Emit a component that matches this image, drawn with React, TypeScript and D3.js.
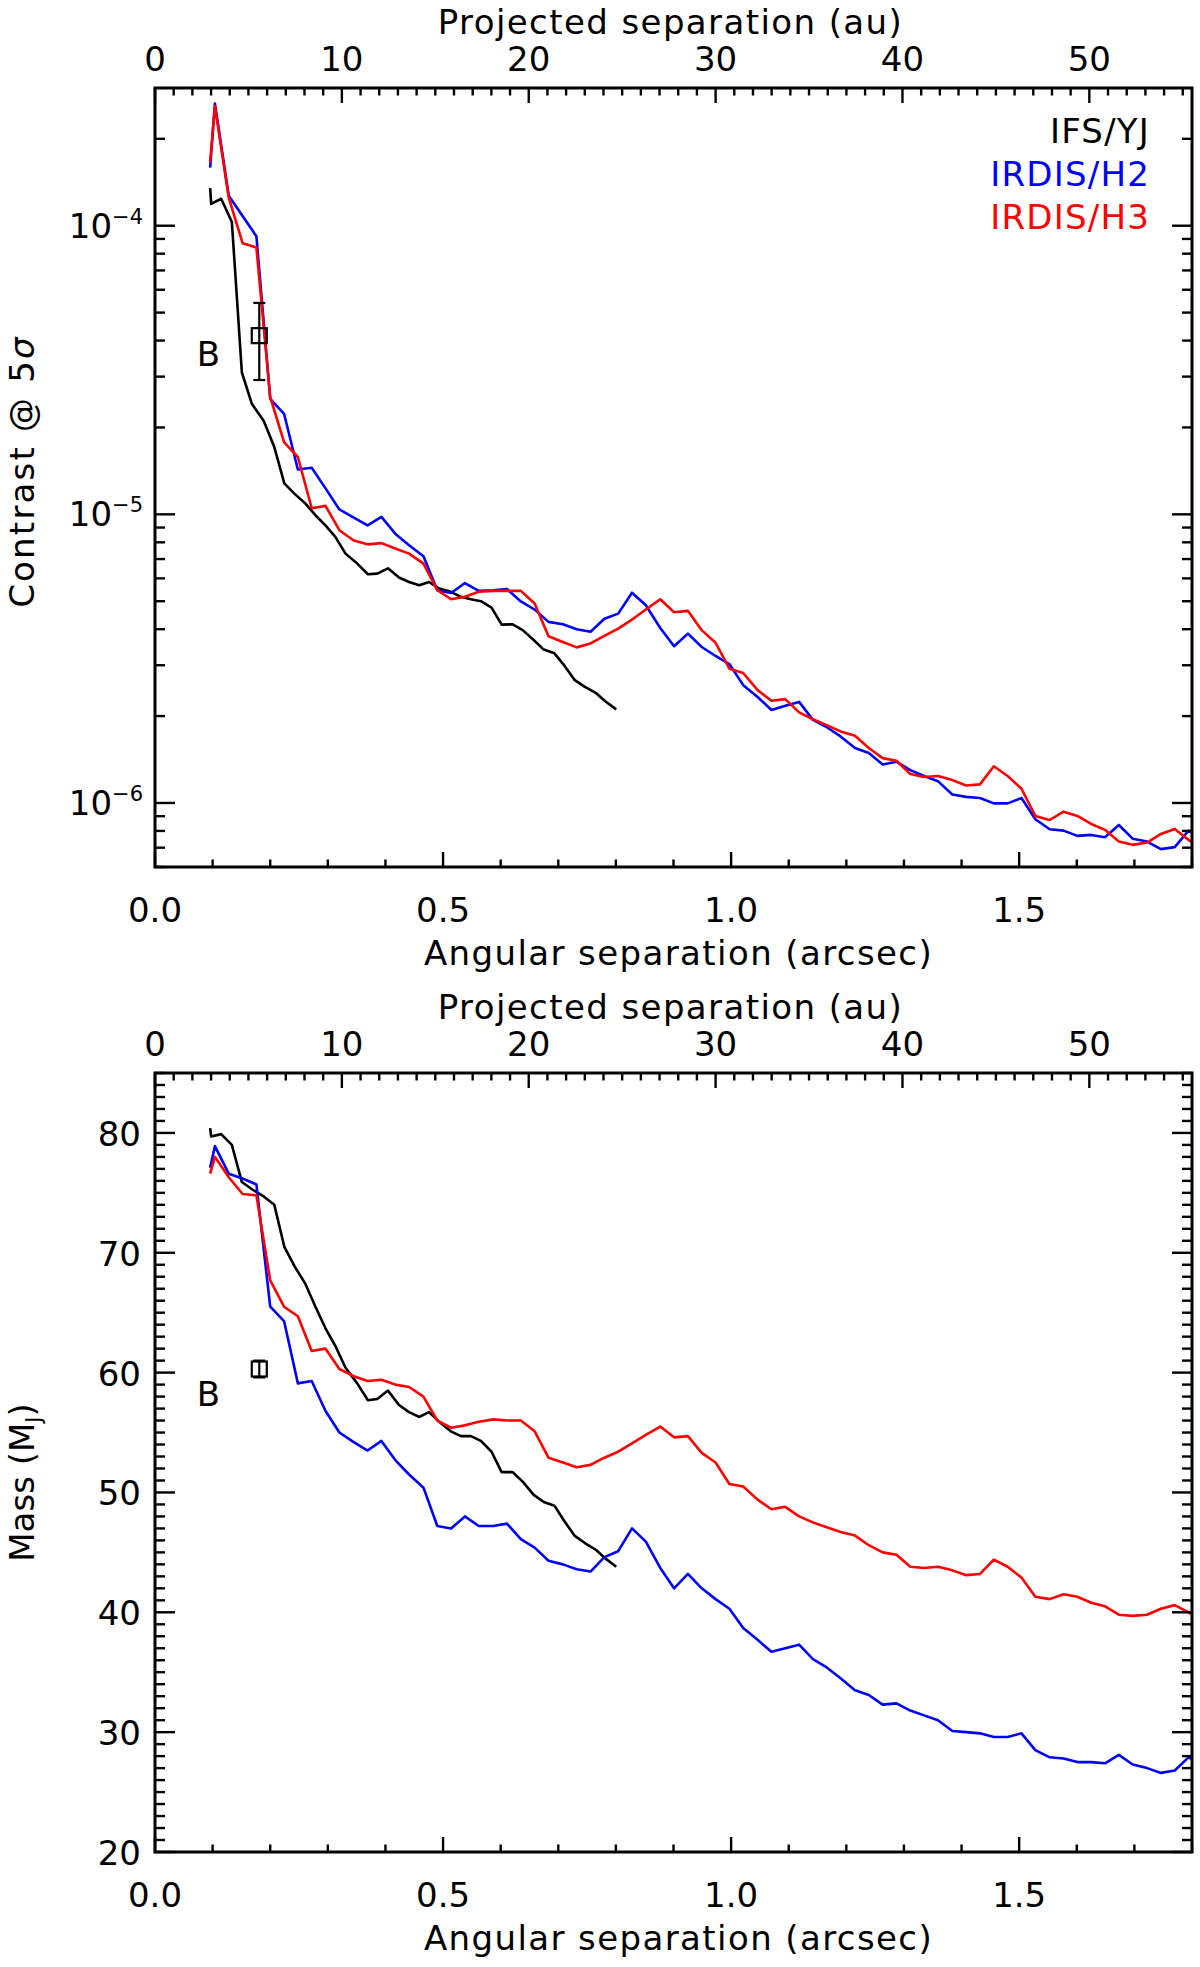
import { useEffect, useRef } from 'react';
import * as d3 from 'd3';

// IRDIS separations (arcsec)
const irdisSep = [
  0.0957, 0.104, 0.128, 0.152, 0.176, 0.2, 0.224, 0.248, 0.272, 0.296, 0.32, 0.345, 0.369, 0.393, 0.417,
  0.441, 0.466, 0.49, 0.514, 0.538, 0.562, 0.587, 0.611, 0.635, 0.659, 0.683, 0.708, 0.732, 0.756, 0.78,
  0.804, 0.828, 0.852, 0.877, 0.901, 0.925, 0.949, 0.973, 0.997, 1.021, 1.046, 1.07, 1.094, 1.118, 1.142,
  1.166, 1.19, 1.215, 1.239, 1.263, 1.287, 1.311, 1.335, 1.359, 1.384, 1.408, 1.432, 1.456, 1.48, 1.504,
  1.528, 1.553, 1.577, 1.601, 1.625, 1.649, 1.673, 1.697, 1.722, 1.746, 1.77, 1.794, 1.818,
];

const contrastH2 = [
  1.59e-4, 2.65e-4, 1.27e-4, 1.08e-4, 9.2e-5, 2.51e-5, 2.23e-5, 1.43e-5, 1.45e-5, 1.23e-5,
  1.04e-5, 9.75e-6, 9.16e-6, 9.8e-6, 8.57e-6, 7.81e-6, 7.16e-6, 5.46e-6, 5.34e-6, 5.78e-6,
  5.43e-6, 5.46e-6, 5.51e-6, 4.99e-6, 4.68e-6, 4.24e-6, 4.16e-6, 4.0e-6, 3.92e-6, 4.35e-6,
  4.53e-6, 5.35e-6, 4.84e-6, 4.04e-6, 3.49e-6, 3.86e-6, 3.47e-6, 3.23e-6, 3.03e-6, 2.56e-6,
  2.33e-6, 2.1e-6, 2.17e-6, 2.24e-6, 1.94e-6, 1.83e-6, 1.7e-6, 1.55e-6, 1.49e-6, 1.36e-6,
  1.39e-6, 1.3e-6, 1.24e-6, 1.19e-6, 1.07e-6, 1.05e-6, 1.04e-6, 9.97e-7, 9.97e-7, 1.04e-6,
  8.78e-7, 8.11e-7, 8.02e-7, 7.69e-7, 7.75e-7, 7.61e-7, 8.39e-7, 7.52e-7, 7.35e-7, 6.92e-7,
  7.03e-7, 8.02e-7, 7.7e-7,
];

const contrastH3 = [
  1.66e-4, 2.6e-4, 1.25e-4, 8.7e-5, 8.4e-5, 2.55e-5, 1.78e-5, 1.58e-5, 1.05e-5, 1.07e-5,
  8.81e-6, 8.12e-6, 7.87e-6, 7.95e-6, 7.61e-6, 7.31e-6, 6.75e-6, 5.46e-6, 5.08e-6, 5.18e-6,
  5.39e-6, 5.43e-6, 5.43e-6, 5.43e-6, 4.91e-6, 3.78e-6, 3.61e-6, 3.46e-6, 3.57e-6, 3.79e-6,
  4.02e-6, 4.32e-6, 4.68e-6, 5.08e-6, 4.58e-6, 4.63e-6, 3.97e-6, 3.59e-6, 2.92e-6, 2.82e-6,
  2.46e-6, 2.26e-6, 2.29e-6, 2.06e-6, 1.95e-6, 1.86e-6, 1.77e-6, 1.71e-6, 1.55e-6, 1.43e-6,
  1.4e-6, 1.26e-6, 1.23e-6, 1.24e-6, 1.2e-6, 1.15e-6, 1.16e-6, 1.34e-6, 1.24e-6, 1.12e-6,
  9.02e-7, 8.73e-7, 9.33e-7, 9.02e-7, 8.46e-7, 8.07e-7, 7.35e-7, 7.16e-7, 7.29e-7, 7.81e-7,
  8.13e-7, 7.45e-7, 6.9e-7,
];

const massH2 = [
  77.1, 78.9, 76.6, 76.2, 75.7, 65.5, 64.3, 59.1, 59.3, 56.8,
  55.0, 54.2, 53.5, 54.3, 52.7, 51.5, 50.4, 47.2, 47.0, 48.0,
  47.2, 47.2, 47.4, 46.1, 45.4, 44.3, 44.0, 43.6, 43.4, 44.6,
  45.1, 47.0, 45.9, 43.7, 42.0, 43.2, 42.0, 41.1, 40.3, 38.7,
  37.7, 36.7, 37.0, 37.3, 36.1, 35.4, 34.5, 33.5, 33.1, 32.3,
  32.4, 31.8, 31.4, 31.0, 30.1, 30.0, 29.9, 29.6, 29.6, 29.9,
  28.5, 27.9, 27.8, 27.5, 27.5, 27.4, 28.1, 27.3, 27.0, 26.6,
  26.8, 27.9, 27.3,
];

const massH3 = [
  76.6, 78.0, 76.3, 74.9, 74.8, 67.7, 65.5, 64.7, 61.8, 62.0,
  60.3, 59.7, 59.3, 59.4, 59.0, 58.8, 58.0, 56.0, 55.4, 55.6,
  55.9, 56.1, 56.0, 56.0, 55.1, 52.9, 52.5, 52.1, 52.3, 52.9,
  53.4, 54.1, 54.8, 55.5, 54.6, 54.7, 53.3, 52.5, 50.7, 50.5,
  49.4, 48.6, 48.8, 48.0, 47.5, 47.1, 46.7, 46.4, 45.6, 45.0,
  44.8, 43.8, 43.7, 43.8, 43.5, 43.1, 43.2, 44.4, 43.8, 42.9,
  41.3, 41.1, 41.5, 41.3, 40.8, 40.5, 39.8, 39.7, 39.8, 40.3,
  40.6, 40.0, 39.3,
];

// IFS separations (arcsec)
const ifsSep = [
  0.0957, 0.0975, 0.1149, 0.1334, 0.1508, 0.1683, 0.1886, 0.2071, 0.2245, 0.2419,
  0.2611, 0.2785, 0.2959, 0.3133, 0.3307, 0.351, 0.3696, 0.3858, 0.4044, 0.4235,
  0.4409, 0.4589, 0.4757, 0.4932, 0.5135, 0.5309, 0.5483, 0.5657, 0.5842, 0.6017,
  0.6208, 0.6382, 0.6573, 0.6748, 0.6933, 0.7107, 0.7281, 0.7455, 0.7658, 0.7815,
  0.8006,
];

const contrastYJ = [
  1.35e-4, 1.19e-4, 1.24e-4, 1.03e-4, 3.1e-5, 2.41e-5, 2.11e-5, 1.71e-5, 1.28e-5, 1.18e-5,
  1.09e-5, 9.93e-6, 9.16e-6, 8.34e-6, 7.31e-6, 6.75e-6, 6.2e-6, 6.23e-6, 6.5e-6, 6.04e-6,
  5.83e-6, 5.68e-6, 5.83e-6, 5.53e-6, 5.39e-6, 5.18e-6, 5.08e-6, 5.0e-6, 4.75e-6, 4.15e-6,
  4.16e-6, 3.97e-6, 3.67e-6, 3.4e-6, 3.3e-6, 2.99e-6, 2.67e-6, 2.53e-6, 2.4e-6, 2.25e-6,
  2.11e-6,
];

const massYJ = [
  80.4, 79.7, 79.9, 79.0, 75.9, 75.3, 74.7, 74.0, 70.5, 68.9,
  67.4, 65.5, 63.7, 62.2, 60.4, 59.1, 57.7, 57.8, 58.5, 57.3,
  56.7, 56.3, 56.7, 55.9, 55.1, 54.7, 54.7, 54.3, 53.4, 51.7,
  51.7, 50.9, 49.8, 49.2, 48.9, 47.6, 46.4, 45.8, 45.2, 44.5,
  43.8,
];

// companion B: separation, value, [low, high]
const companionSep = 0.181;
const companionContrast = [4.16e-5, 2.92e-5, 5.4e-5];
const companionMass = [60.3, 59.6, 61.0];

const sepTicks = [0, 0.5, 1.0, 1.5];
const auTicks = [0, 10, 20, 30, 40, 50];
const massTicks = [20, 30, 40, 50, 60, 70, 80];
const contrastExps = [-6, -5, -4];
const distancePc = 30.83;

const series = [
  { name: 'IFS/YJ', color: '#000000', sep: ifsSep, contrast: contrastYJ, mass: massYJ },
  { name: 'IRDIS/H2', color: '#0000ff', sep: irdisSep, contrast: contrastH2, mass: massH2 },
  { name: 'IRDIS/H3', color: '#ff0000', sep: irdisSep, contrast: contrastH3, mass: massH3 },
];

const FONT = "'DejaVu Sans', Verdana, sans-serif";

export default function App() {
  const svgRef = useRef<SVGSVGElement>(null);

  useEffect(() => {
    if (!svgRef.current) return;
    const svg = d3.select(svgRef.current);
    svg.selectAll('*').remove();

    const left = 155;
    const right = 1192;
    const panelH = 779;
    const tops = [88, 1073];

    const x = d3.scaleLinear().domain([0, 1.8]).range([left, right]);
    const xAu = d3.scaleLinear().domain([0, 1.8 * distancePc]).range([left, right]);

    const panels = [
      {
        top: tops[0],
        y: d3.scaleLog().domain([6e-7, 3e-4]).range([tops[0] + panelH, tops[0]]),
        key: 'contrast' as const,
      },
      {
        top: tops[1],
        y: d3.scaleLinear().domain([20, 85]).range([tops[1] + panelH, tops[1]]),
        key: 'mass' as const,
      },
    ];

    panels.forEach((p, pi) => {
      const top = p.top;
      const bottom = top + panelH;
      const g = svg.append('g');
      const y = p.y as any;

      // clip
      const clipId = `clip${pi}`;
      svg
        .append('clipPath')
        .attr('id', clipId)
        .append('rect')
        .attr('x', left)
        .attr('y', top)
        .attr('width', right - left)
        .attr('height', panelH);

      // curves
      const curves = g.append('g').attr('clip-path', `url(#${clipId})`);
      series.forEach((s) => {
        const vals = s[p.key];
        const pts = s.sep.map((d, i) => [d, vals[i]] as [number, number]);
        const line = d3
          .line<[number, number]>()
          .x((d) => x(d[0]))
          .y((d) => y(d[1]));
        curves
          .append('path')
          .attr('d', line(pts))
          .attr('fill', 'none')
          .attr('stroke', s.color)
          .attr('stroke-width', 2.6)
          .attr('stroke-linejoin', 'round');
      });

      // ticks
      const tk = g.append('g').attr('stroke', '#000').attr('stroke-width', 2.4);
      d3.range(0, 1.801, 0.1).forEach((v) => {
        const major = sepTicks.some((t) => Math.abs(t - v) < 1e-6);
        const len = major ? 15 : 7.5;
        tk.append('line').attr('x1', x(v)).attr('x2', x(v)).attr('y1', bottom).attr('y2', bottom - len);
      });
      d3.range(0, 1.8 * distancePc, 1).forEach((v) => {
        const major = v % 10 === 0;
        const len = major ? 15 : 7.5;
        tk.append('line').attr('x1', xAu(v)).attr('x2', xAu(v)).attr('y1', top).attr('y2', top + len);
      });

      const yTicks: { v: number; major: boolean }[] = [];
      if (p.key === 'contrast') {
        [-7, -6, -5, -4].forEach((e) => {
          for (let m = 1; m <= 9; m++) {
            const v = m * Math.pow(10, e);
            if (v >= 6e-7 && v <= 3e-4) yTicks.push({ v, major: m === 1 });
          }
        });
      } else {
        d3.range(20, 86, 1).forEach((v) => yTicks.push({ v, major: v % 10 === 0 }));
      }
      yTicks.forEach(({ v, major }) => {
        const yy = y(v);
        const len = major ? 20 : 10;
        tk.append('line').attr('x1', left).attr('x2', left + len).attr('y1', yy).attr('y2', yy);
        tk.append('line').attr('x1', right).attr('x2', right - len).attr('y1', yy).attr('y2', yy);
      });

      // frame
      g.append('rect')
        .attr('x', left)
        .attr('y', top)
        .attr('width', right - left)
        .attr('height', panelH)
        .attr('fill', 'none')
        .attr('stroke', '#000')
        .attr('stroke-width', 3);

      const txt = g.append('g').attr('font-family', FONT).attr('font-size', 34).attr('fill', '#000');

      // bottom tick labels
      sepTicks.forEach((v) => {
        txt.append('text').attr('x', x(v)).attr('y', bottom + 55).attr('text-anchor', 'middle').text(v.toFixed(1));
      });
      // top tick labels
      auTicks.forEach((v) => {
        txt.append('text').attr('x', xAu(v)).attr('y', top - 17).attr('text-anchor', 'middle').text(String(v));
      });

      // axis titles
      txt
        .append('text')
        .attr('x', (left + right) / 2 + 5)
        .attr('y', bottom + 98)
        .attr('text-anchor', 'middle')
        .attr('letter-spacing', 1.4)
        .text('Angular separation (arcsec)');
      txt
        .append('text')
        .attr('x', (left + right) / 2 - 3)
        .attr('y', top - 54)
        .attr('text-anchor', 'middle')
        .attr('letter-spacing', 1.4)
        .text('Projected separation (au)');

      if (p.key === 'contrast') {
        contrastExps.forEach((e) => {
          const yy = y(Math.pow(10, e));
          const t = txt.append('text').attr('x', 143).attr('y', yy + 12).attr('text-anchor', 'end');
          t.append('tspan').text('10');
          t.append('tspan').attr('dy', -14).attr('font-size', 21).text(`\u2212${-e}`);
        });
        const yt = txt
          .append('text')
          .attr('transform', `translate(34, ${(top + bottom) / 2 - 6}) rotate(-90)`)
          .attr('text-anchor', 'middle')
          .attr('letter-spacing', 2.2);
        yt.append('tspan').text('Contrast @ 5');
        yt.append('tspan').attr('font-style', 'italic').text('\u03c3');

        // legend
        series.forEach((s, i) => {
          txt
            .append('text')
            .attr('x', 1150)
            .attr('y', 143 + i * 43)
            .attr('text-anchor', 'end')
            .attr('letter-spacing', 1.2)
            .attr('fill', s.color)
            .text(s.name);
        });
      } else {
        massTicks.forEach((v) => {
          txt.append('text').attr('x', 141).attr('y', y(v) + 13).attr('text-anchor', 'end').text(String(v));
        });
        const yt = txt
          .append('text')
          .attr('transform', `translate(34, ${(top + bottom) / 2 + 20}) rotate(-90)`)
          .attr('text-anchor', 'middle');
        yt.append('tspan').text('Mass (M');
        yt.append('tspan').attr('font-size', 21).attr('dy', 7).text('J');
        yt.append('tspan').attr('dy', -7).text(')');
      }

      // companion B
      const vals = p.key === 'contrast' ? companionContrast : companionMass;
      const cx = x(companionSep);
      const cy = y(vals[0]);
      const cg = g.append('g').attr('stroke', '#000').attr('stroke-width', 2.2).attr('fill', 'none');
      cg.append('line').attr('x1', cx).attr('x2', cx).attr('y1', y(vals[1])).attr('y2', y(vals[2]));
      cg.append('line').attr('x1', cx - 6).attr('x2', cx + 6).attr('y1', y(vals[1])).attr('y2', y(vals[1]));
      cg.append('line').attr('x1', cx - 6).attr('x2', cx + 6).attr('y1', y(vals[2])).attr('y2', y(vals[2]));
      cg.append('rect').attr('x', cx - 7.5).attr('y', cy - 7.5).attr('width', 15).attr('height', 15);
      txt
        .append('text')
        .attr('x', x(0.0925))
        .attr('y', cy + (p.key === 'contrast' ? 30 : 37))
        .attr('text-anchor', 'middle')
        .text('B');
    });
  }, []);

  return (
    <svg
      ref={svgRef}
      width={1200}
      height={1967}
      style={{ position: 'absolute', left: 0, top: 0, background: '#fff' }}
    ></svg>
  );
}
